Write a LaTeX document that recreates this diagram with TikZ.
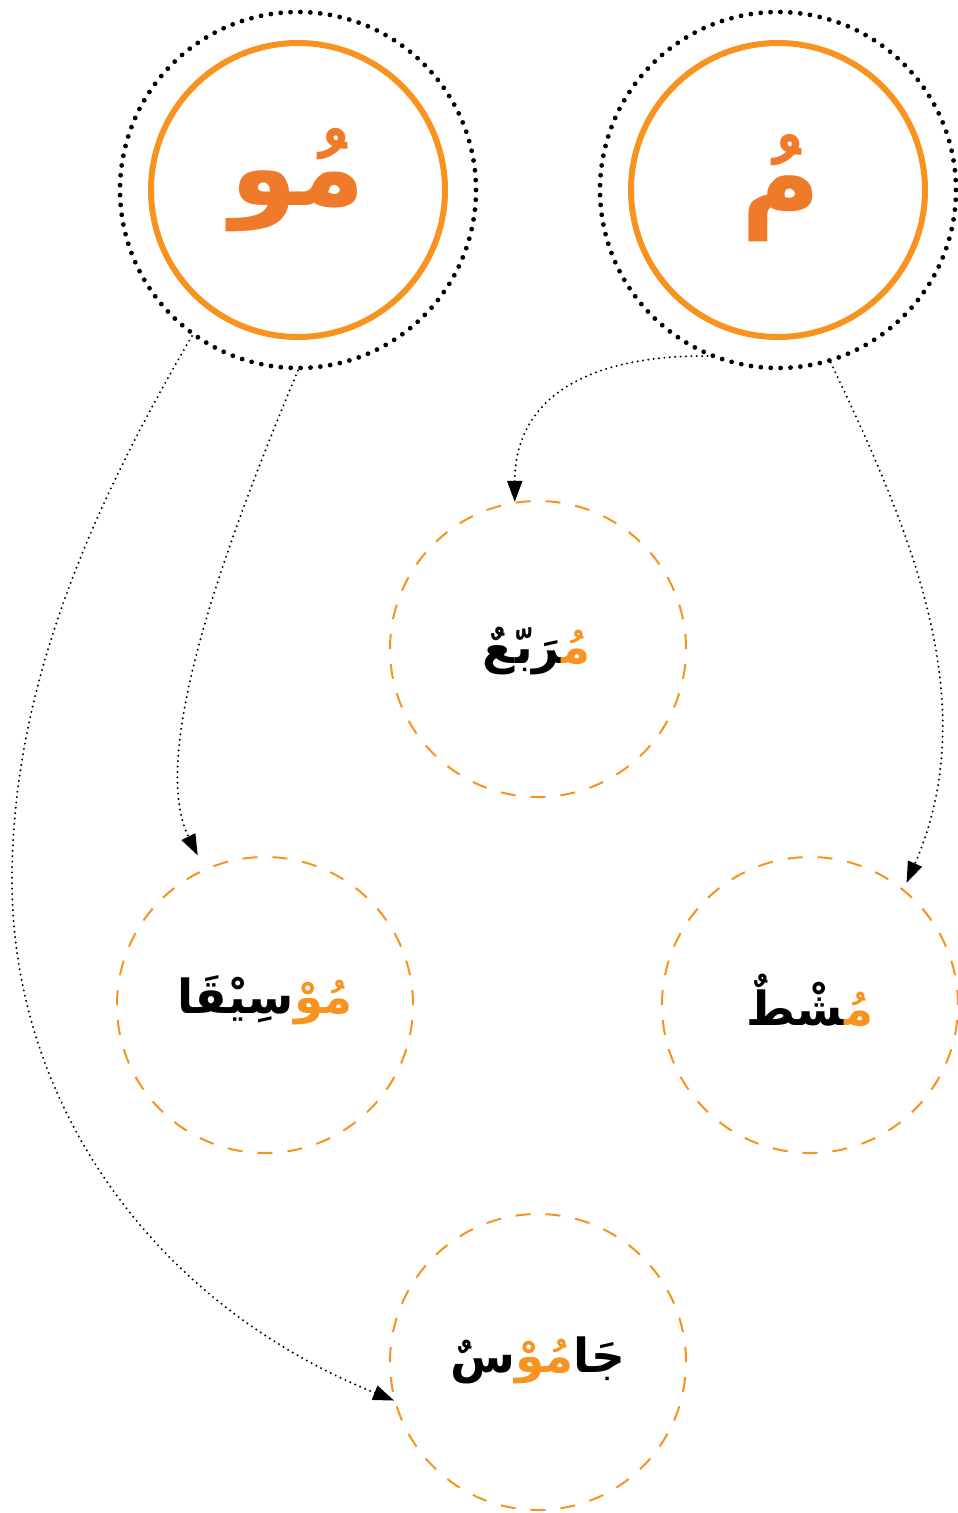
\documentclass[tikz,border=0pt]{standalone}
\usepackage{fontspec}
\newfontfamily\arabicfont[Script=Arabic]{DejaVu Sans}
\usetikzlibrary{arrows.meta}
\definecolor{ringor}{HTML}{F7931E}
\definecolor{textor}{HTML}{EF7A2A}
\definecolor{wordor}{HTML}{F7931E}
\newcommand{\zj}{^^^^200d}
\tikzset{
  ring/.style={circle, draw=ringor, line width=6pt, minimum size=294pt, inner sep=0pt},
  dotring/.style={circle, draw=black, line width=4.8pt, dash pattern=on 0pt off 9.9pt, line cap=round, minimum size=356pt, inner sep=0pt},
  wordring/.style={circle, draw=wordor, line width=2pt, dash pattern=on 15pt off 15pt, minimum size=296pt, inner sep=0pt},
  wordtext/.style={inner sep=0pt, font=\arabicfont\bfseries\fontsize{47}{52}\selectfont},
  toptext/.style={text=textor, font=\arabicfont\bfseries\fontsize{108}{120}\selectfont, inner sep=0pt},
  link/.style={draw=black, line width=2.2pt, dash pattern=on 0pt off 5.4pt, line cap=round, -{Triangle[length=21pt,width=15pt]}},
}
\begin{document}
\begin{tikzpicture}[x=1pt,y=-1pt]
\useasboundingbox (0,0) rectangle (958,1513);
% top circles
\node[dotring] (Ao) at (298,190) {};
\node[ring] (A) at (298,190) {};
\node[toptext] (At) at (298,180) {مُو};
\node[dotring] (Bo) at (778,190) {};
\node[ring] (B) at (778,190) {};
\node[toptext] (Bt) at (781,188) {مُ};
% word circles
\node[wordring] (c1) at (538,649) {};
\node[wordtext] (w1) at (537,651) {\zj رَبّعٌ{\color{wordor}مُ\zj}};
\node[wordring] (c2) at (265,1005) {};
\node[wordtext] (w2) at (265,1000) {سِيْقَا{\color{wordor}مُوْ}};
\node[wordring] (c3) at (810,1005) {};
\node[wordtext] (w3) at (810,1000) {\zj شْطٌ{\color{wordor}مُ\zj}};
\node[wordring] (c4) at (538,1362) {};
\node[wordtext] (w4) at (538,1360) {سٌ{\color{wordor}مُوْ}جَا};
% connectors
\coordinate (m4) at (12,880);
\draw[link] (Bo.-113) .. controls (600,355) and (515,390) .. (c1.99);
\draw[link, shorten >=7pt] (Bo.-73) .. controls (905,520) and (987,699) .. (c3.51);
\draw[link, shorten >=15pt] (Ao.-90) .. controls (221,554) and (149,757) .. (c2.114.5);
\draw[link] (Ao.-126) .. controls (98,497) and (12,680) .. (m4) .. controls (12,1100) and (150,1302) .. (c4.195);
\end{tikzpicture}
\end{document}
